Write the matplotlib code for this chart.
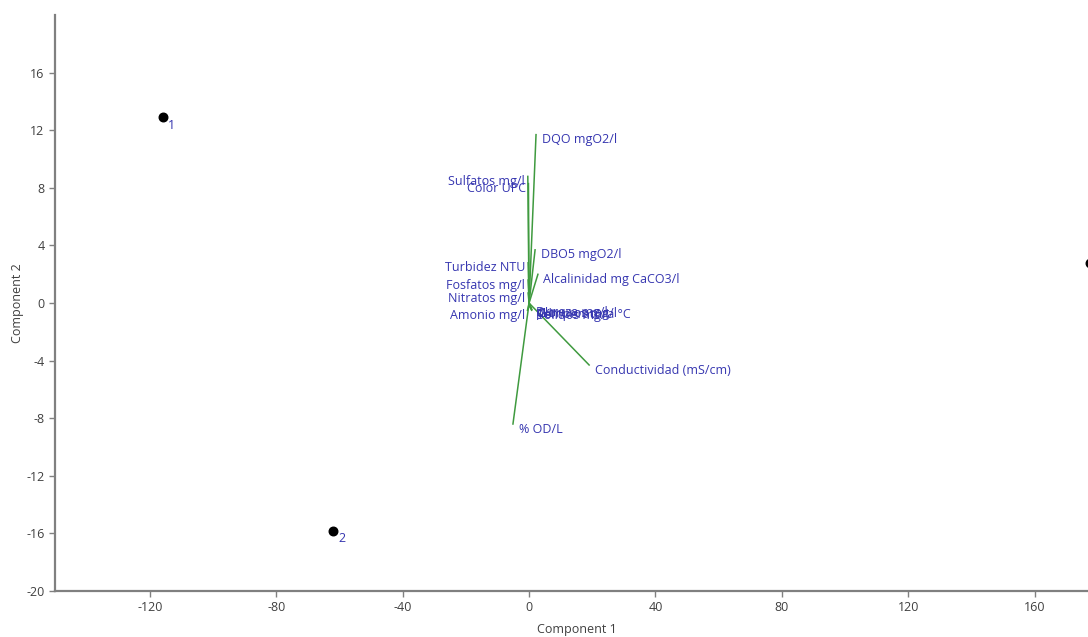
import matplotlib.pyplot as plt

plt.rcParams['font.family'] = ['Open Sans', 'DejaVu Sans']
plt.rcParams['axes.unicode_minus'] = False

# scores (samples)
score_ids = ['1', '2', '3']
score_x = [-115.9, -62.1, 177.6]
score_y = [12.9, -15.8, 2.8]

# loadings (variables)
var_names = ['DQO mgO2/l', 'Sulfatos mg/l', 'Color UPC', 'DBO5 mgO2/l', 'Turbidez NTU',
             'Alcalinidad mg CaCO3/l', 'Fosfatos mg/l', 'Nitratos mg/l', 'Amonio mg/l',
             'Dureza mg/l', 'Cloruros mg/l', 'Sólidos mg/l', 'pH', 'Temperatura °C',
             'Conductividad (mS/cm)', '% OD/L']
var_x = [2.2, -0.4, -0.2, 1.9, -0.3, 2.8, -0.3, -0.3, -0.5,
         0.4, 0.6, 0.8, 0.5, 0.9, 19.0, -5.1]
var_y = [11.7, 8.8, 8.3, 3.7, 2.8, 2.0, 1.6, 0.7, -0.5,
         -0.3, -0.4, -0.5, -0.35, -0.45, -4.3, -8.4]
# labels drawn on the left side of the line end
left_labels = ['Sulfatos mg/l', 'Color UPC', 'Turbidez NTU', 'Fosfatos mg/l',
               'Nitratos mg/l', 'Amonio mg/l']

txt_col = '#3636b0'
line_col = '#3f9a3f'
axis_col = '#808080'

fig = plt.figure(figsize=(10.88, 6.37), dpi=100)
ax = fig.add_axes([55 / 1088, 0.0722, 0.9586, 0.904])

for name, x, y in zip(var_names, var_x, var_y):
    ax.plot([0, x], [0, y], color=line_col, linewidth=1.1)
    if name in left_labels:
        ax.annotate(name, (x, y), xytext=(-2, 1), textcoords='offset points',
                    ha='right', va='top', color=txt_col, fontsize=9)
    else:
        ax.annotate(name, (x, y), xytext=(4, 1), textcoords='offset points',
                    ha='left', va='top', color=txt_col, fontsize=9)

ax.scatter(score_x, score_y, s=38, color='black', zorder=3, clip_on=False)
for sid, x, y in zip(score_ids, score_x, score_y):
    ax.annotate(sid, (x, y), xytext=(4, -1), textcoords='offset points',
                ha='left', va='top', color=txt_col, fontsize=9)

ax.set_xlim(-150, 180)
ax.set_ylim(-20, 20)
ax.set_xticks([-120, -80, -40, 0, 40, 80, 120, 160])
ax.set_yticks([-20, -16, -12, -8, -4, 0, 4, 8, 12, 16])
ax.set_xlabel('Component 1', fontsize=9, color='#404040', labelpad=6)
ax.set_ylabel('Component 2', fontsize=9, color='#404040')
ax.yaxis.set_label_coords(-0.0297, 0.5)

for s in ['top', 'right']:
    ax.spines[s].set_visible(False)
for s in ['left', 'bottom']:
    ax.spines[s].set_color(axis_col)
    ax.spines[s].set_linewidth(1.6)
ax.tick_params(axis='both', colors=axis_col, labelcolor='#404040', labelsize=9,
               length=4, width=1)

plt.savefig('out.png', dpi=100)
